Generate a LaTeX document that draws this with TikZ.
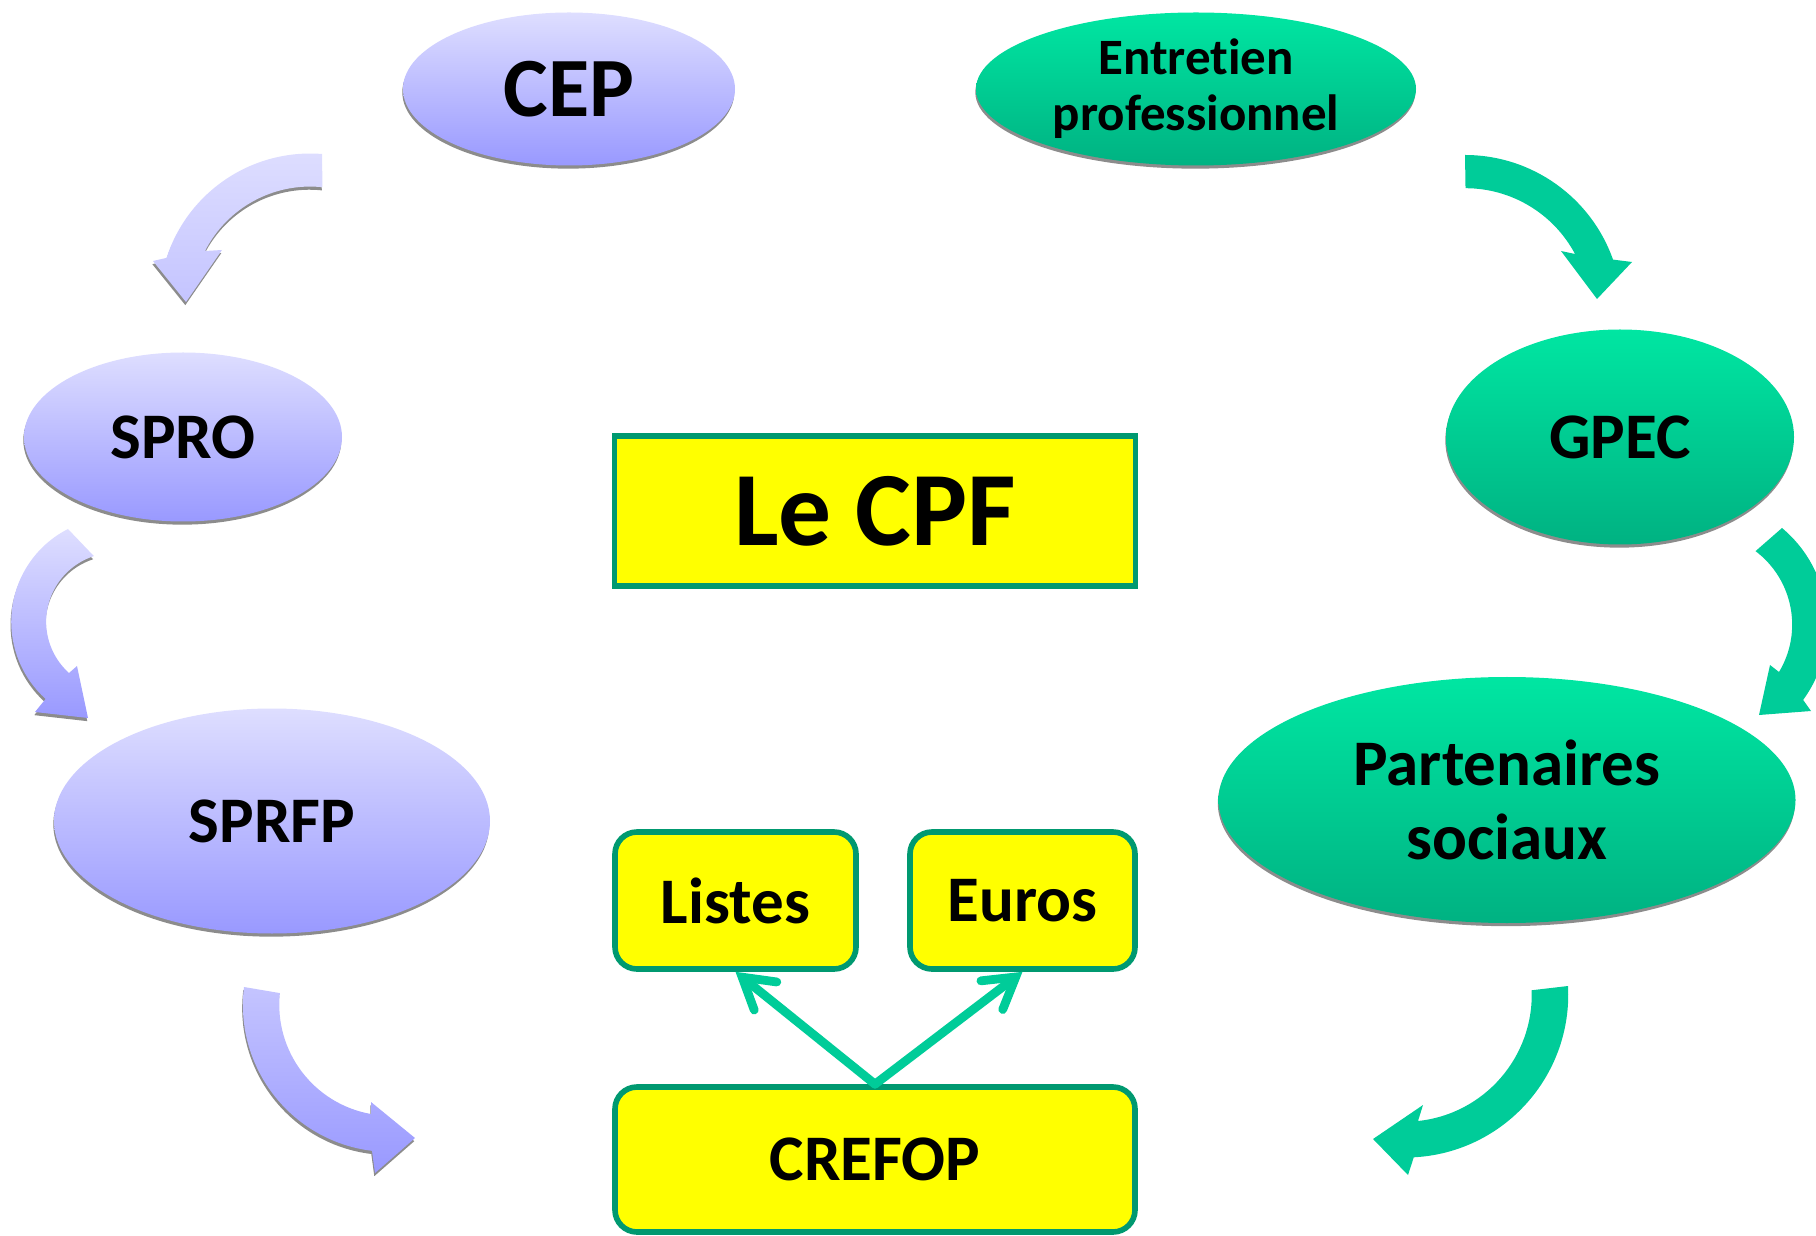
\documentclass[tikz,border=0pt]{standalone}
\usepackage{fontspec}
\setmainfont{Carlito}[Ligatures=NoCommon]
\usetikzlibrary{arrows.meta,shapes.geometric,shadows}

\definecolor{lavtop}{RGB}{222,222,255}
\definecolor{lavmid}{RGB}{196,196,255}
\definecolor{lavbot}{RGB}{153,153,255}
\definecolor{mintop}{RGB}{0,230,162}
\definecolor{mintbot}{RGB}{0,178,130}
\definecolor{mintarrow}{RGB}{0,204,153}
\definecolor{boxborder}{RGB}{0,153,112}
\definecolor{jaune}{RGB}{255,255,0}

\tikzset{
	ombre/.style={drop shadow={shadow xshift=-0.2pt, shadow yshift=-0.9pt, fill=black!45, opacity=1}},
	bulle/.style={ellipse, inner sep=0pt, align=center, ombre},
	bleu/.style={bulle, top color=lavtop, bottom color=lavbot},
	vert/.style={bulle, top color=mintop, bottom color=mintbot},
	boite/.style={draw=boxborder, line width=1.6pt, fill=jaune, inner sep=0pt},
	lien/.style={draw=mintarrow, line width=2.5pt, line cap=round,
		-{Straight Barb[length=0.3cm, width=0.36cm, line cap=round]}},
	gros/.style={font=\bfseries\fontsize{#1}{#1}\selectfont}
}

\begin{document}
\begin{tikzpicture}
	\useasboundingbox (0,0) rectangle (18.16,12.35);
	\clip (0,0) rectangle (18.16,12.35);

	% bulles
	\node[bleu, minimum width=3.32cm, minimum height=1.53cm, gros=24pt] (cep) at (5.69,11.46) {CEP};

	\node[vert, minimum width=4.40cm, minimum height=1.53cm, font=\bfseries\fontsize{14.5pt}{16pt}\selectfont] (entretien) at (11.96,11.46) {Entretien\\professionnel};

	\node[bleu, minimum width=3.18cm, minimum height=1.69cm, gros=18.5pt] (spro) at (1.83,7.98) {SPRO};

	\node[vert, minimum width=3.48cm, minimum height=2.15cm, gros=18.5pt] (gpec) at (16.20,7.98) {GPEC};

	\node[bleu, minimum width=4.36cm, minimum height=2.25cm, gros=18.5pt] (sprfp) at (2.72,4.14) {SPRFP};

	\node[vert, minimum width=5.77cm, minimum height=2.46cm, font=\bfseries\fontsize{18.5pt}{21pt}\selectfont] (partenaires) at (15.07,4.35) {Partenaires\\sociaux};

	% boites
	\node[boite, minimum width=5.21cm, minimum height=1.50cm, gros=30pt] (cpf) at (8.75,7.24) {Le CPF};

	\node[boite, rounded corners=0.22cm, minimum width=2.41cm, minimum height=1.37cm, gros=18.5pt] (listes) at (7.355,3.345) {Listes};

	\node[boite, rounded corners=0.22cm, minimum width=2.25cm, minimum height=1.37cm, gros=18.5pt] (euros) at (10.225,3.345) {Euros};

	\node[boite, rounded corners=0.22cm, minimum width=5.20cm, minimum height=1.45cm, gros=18.5pt] (crefop) at (8.75,0.755) {CREFOP};

	\draw[lien] (crefop.north) -- (listes.south);

	\draw[lien] (crefop.north) -- (euros.south);

	% fleches courbes
	\shade[ombre, top color=lavtop, bottom color=lavmid] (3.22,10.81) arc[start angle=85.5, end angle=162, radius=1.51]
		-- (1.53,9.74) -- (1.86,9.33) -- (2.22,9.85) -- (2.05,9.84)
		arc[start angle=153, end angle=84, radius=1.18] -- cycle;

	\shade[ombre, top color=lavtop, bottom color=lavbot] (0.68,7.06) arc[start angle=117, end angle=228, radius=1.04]
		-- (0.35,5.23) -- (0.88,5.17) -- (0.77,5.69) -- (0.69,5.62)
		arc[start angle=228, end angle=108, radius=0.69] -- cycle;

	\shade[ombre, top color=lavmid, bottom color=lavbot] (2.44,2.48) arc[start angle=173, end angle=263, radius=1.47]
		-- (3.75,0.62) -- (4.15,0.97) -- (3.71,1.33) -- (3.71,1.21)
		arc[start angle=260, end angle=174, radius=1.11] -- cycle;

	\fill[mintarrow] (14.65,10.80) arc[start angle=90, end angle=19.5, radius=1.57]
		-- (16.32,9.73) -- (15.97,9.36) -- (15.61,9.84) -- (15.75,9.81)
		arc[start angle=28, end angle=90, radius=1.24] -- cycle;

	\fill[mintarrow] (17.82,7.07) arc[start angle=50, end angle=-36, radius=1.27]
		-- (18.11,5.24) -- (17.59,5.20) -- (17.70,5.70) -- (17.79,5.63)
		arc[start angle=-31, end angle=53, radius=0.92] -- cycle;

	\fill[mintarrow] (15.68,2.49) arc[start angle=3, end angle=-87, radius=1.63]
		-- (14.08,0.60) -- (13.73,0.96) -- (14.23,1.30) -- (14.18,1.14)
		arc[start angle=-84, end angle=2, radius=1.27] -- cycle;
\end{tikzpicture}
\end{document}
